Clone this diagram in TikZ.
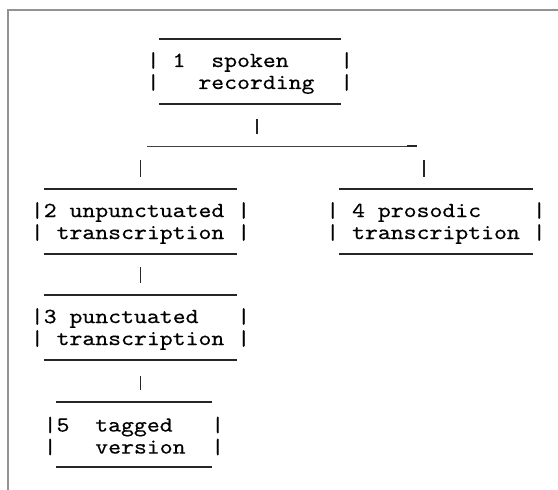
\documentclass[tikz,border=0pt]{standalone}
\usepackage{fontspec}
\newfontfamily\typefont[FakeStretch=1.143, FakeBold=0.35]{lmmono10-regular.otf}
\usepackage{tikz}
\usetikzlibrary{calc}

\def\cellw{12.9pt}

\begin{document}
\begin{tikzpicture}[
  x=1pt, y=-1pt,
  rule/.style={line width=1.6pt, black!85},
  card/.style={
    font=\typefont\fontsize{21.5}{22}\selectfont,
    align=left, inner sep=0pt, minimum height=65pt,
    append after command={
      ([xshift=\cellw, yshift=1.5pt]\tikzlastnode.north west) edge[rule] ([xshift=-\cellw, yshift=1.5pt]\tikzlastnode.north east)
      ([xshift=\cellw, yshift=1.5pt]\tikzlastnode.south west) edge[rule] ([xshift=-\cellw, yshift=1.5pt]\tikzlastnode.south east)
    }
  },
  link/.style={line width=1.4pt, black!85, shorten <=11.5pt, shorten >=13.5pt},
  split/.style={line width=1pt, black!75},
  frame/.style={line width=1.4pt, gray!85}
]
\useasboundingbox (0,0) rectangle (558,490);

% Border
\draw[frame] (8,490) -- (8,10) -- (558,10);

% Boxes
\node[card] (spoken) at (250,73) {|~1~~spoken~~~~|\\|~~~recording~~|};
\node[card] (unpunct) at (140.5,223) {|2~unpunctuated~|\\|~transcription~|};
\node[card] (prosodic) at (436,223) {|~4~prosodic~~~~|\\|~transcription~|};
\node[card] (punct) at (140.5,329) {|3~punctuated~~~|\\|~transcription~|};
\node[card] (tagged) at (134,436) {|5~~tagged~~~|\\|~~~version~~|};

% Branch line
\coordinate (split west) at (147,146);
\coordinate (split east) at (417,146);
\draw[split] (split west) -- ([xshift=-10pt]split east);
\draw[rule] ([xshift=-10pt]split east) -- (split east);

% Links
\draw[link, shorten <=13.5pt, shorten >=12pt] ([xshift=7pt]spoken.south) -- ([xshift=7pt]spoken.south |- split west);
\draw[link, shorten <=14pt] (unpunct.north |- split west) -- (unpunct.north);
\draw[link, shorten <=14pt] ([xshift=-12pt]prosodic.north |- split west) -- ([xshift=-12pt]prosodic.north);
\draw[link] (unpunct) -- (punct);
\draw[link, shorten <=14.5pt] (punct) -- (tagged.north -| punct);

\end{tikzpicture}
\end{document}
